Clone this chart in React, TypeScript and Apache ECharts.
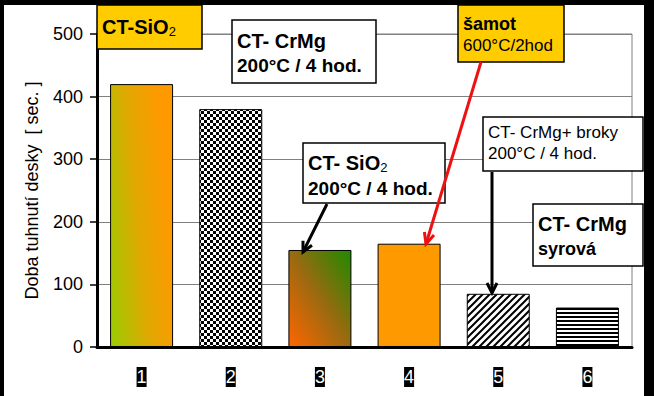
import React, { useEffect, useRef } from "react";
import * as echarts from "echarts";

const categories = ["1", "2", "3", "4", "5", "6"];
const values = [420, 380, 155, 165, 85, 63];
const yMin = 0;
const yMax = 500;
const yInterval = 100;
const yName = "Doba tuhnutí desky  [ sec. ]";

const FONT = "Arial, 'Liberation Sans', sans-serif";

function makeCanvas(w: number, h: number, draw: (ctx: CanvasRenderingContext2D) => void) {
  const c = document.createElement("canvas");
  c.width = w;
  c.height = h;
  const ctx = c.getContext("2d") as CanvasRenderingContext2D;
  draw(ctx);
  return c;
}

function buildFills(): any[] {
  const checker = makeCanvas(6, 6, (ctx) => {
    ctx.fillStyle = "#fff";
    ctx.fillRect(0, 0, 6, 6);
    ctx.fillStyle = "#000";
    ctx.fillRect(0, 0, 3, 3);
    ctx.fillRect(3, 3, 3, 3);
  });
  const diag = makeCanvas(7, 7, (ctx) => {
    ctx.fillStyle = "#fff";
    ctx.fillRect(0, 0, 7, 7);
    ctx.strokeStyle = "#000";
    ctx.lineWidth = 2;
    ctx.beginPath();
    ctx.moveTo(-1, 8);
    ctx.lineTo(8, -1);
    ctx.moveTo(-8, 8);
    ctx.lineTo(1, -1);
    ctx.moveTo(6, 8);
    ctx.lineTo(15, -1);
    ctx.stroke();
  });
  const hstripe = makeCanvas(4, 4, (ctx) => {
    ctx.fillStyle = "#fff";
    ctx.fillRect(0, 0, 4, 4);
    ctx.fillStyle = "#000";
    ctx.fillRect(0, 0, 4, 2);
  });
  return [
    {
      type: "linear", x: 0, y: 1, x2: 1, y2: 0.6,
      colorStops: [
        { offset: 0, color: "#99cc00" },
        { offset: 0.55, color: "#e0a800" },
        { offset: 1, color: "#ff9900" },
      ],
    },
    { image: checker, repeat: "repeat" },
    {
      type: "linear", x: 0, y: 1, x2: 1, y2: 0,
      colorStops: [
        { offset: 0, color: "#ff6600" },
        { offset: 0.5, color: "#9a6a10" },
        { offset: 1, color: "#1f8a00" },
      ],
    },
    "#ff9900",
    { image: diag, repeat: "repeat" },
    { image: hstripe, repeat: "repeat" },
  ];
}

function box(x: number, y: number, w: number, h: number, fill: string) {
  return {
    type: "rect",
    z: 100,
    shape: { x, y, width: w, height: h },
    style: { fill, stroke: "#000", lineWidth: 1.5 },
  };
}

function txt(x: number, y: number, text: string, size: number, weight: string) {
  return {
    type: "text",
    z: 101,
    x,
    y,
    style: {
      text,
      fontSize: size,
      fontWeight: weight,
      fontFamily: FONT,
      fill: "#000",
      verticalAlign: "middle",
      align: "left",
    },
  };
}

function subTxt(x: number, y: number, main: string, sub: string) {
  return {
    type: "text",
    z: 101,
    x,
    y,
    style: {
      text: `{a|${main}}{b|${sub}}`,
      verticalAlign: "middle",
      align: "left",
      rich: {
        a: { fontSize: 20, fontWeight: "bold", fontFamily: FONT, fill: "#000", lineHeight: 22 },
        b: { fontSize: 13, fontFamily: FONT, fill: "#000", lineHeight: 9, verticalAlign: "bottom" },
      },
    },
  };
}

function arrow(x1: number, y1: number, x2: number, y2: number, color: string, w: number, len: number, half: number) {
  const dx = x2 - x1;
  const dy = y2 - y1;
  const L = Math.hypot(dx, dy);
  const ux = dx / L;
  const uy = dy / L;
  const bx = x2 - ux * len;
  const by = y2 - uy * len;
  const px = -uy;
  const py = ux;
  return [
    { type: "line", z: 102, shape: { x1, y1, x2, y2 }, style: { stroke: color, lineWidth: w } },
    {
      type: "polyline",
      z: 102,
      shape: { points: [[bx + px * half, by + py * half], [x2, y2], [bx - px * half, by - py * half]] },
      style: { stroke: color, lineWidth: w, fill: null },
    },
  ];
}

export default function App() {
  const ref = useRef<HTMLDivElement>(null);
  useEffect(() => {
    if (!ref.current) return;
    const chart = echarts.init(ref.current, null, { renderer: "svg" });
    const fills = buildFills();
    const option: any = {
      animation: false,
      backgroundColor: "#fff",
      grid: { left: 97, right: 22, top: 34, bottom: 49, show: true, borderColor: "#808080", borderWidth: 1 },
      xAxis: {
        type: "category",
        data: categories,
        axisLine: { lineStyle: { color: "#000", width: 3 } },
        axisTick: { show: false },
        splitLine: { show: false },
        axisLabel: {
          color: "#fff",
          backgroundColor: "#000",
          fontSize: 18,
          fontFamily: FONT,
          padding: [1, 0, 1, 0],
          margin: 20,
        },
      },
      yAxis: {
        type: "value",
        min: yMin,
        max: yMax,
        interval: yInterval,
        name: yName,
        nameLocation: "middle",
        nameRotate: 90,
        nameGap: 56,
        nameTextStyle: { fontSize: 18, fontFamily: FONT, color: "#000" },
        axisLine: { show: true, lineStyle: { color: "#000", width: 3 } },
        axisTick: { show: true, length: 7, lineStyle: { color: "#000", width: 1.5 } },
        axisLabel: { fontSize: 18, fontFamily: FONT, color: "#000", margin: 14 },
        splitLine: { lineStyle: { color: "#808080", width: 1 } },
      },
      series: [
        {
          type: "bar",
          barWidth: 63,
          data: values.map((v, i) => ({ value: v, itemStyle: { color: fills[i] } })),
          itemStyle: { borderColor: "#000", borderWidth: 1 },
        },
      ],
      graphic: {
        elements: [
          // annotation boxes
          box(97, 5, 105, 44, "#ffcc00"),
          subTxt(102, 27, "CT-SiO", "2"),
          box(232, 20, 144, 63, "#fff"),
          txt(237, 41, "CT- CrMg", 20, "bold"),
          txt(237, 65, "200°C / 4 hod.", 19, "bold"),
          box(458, 5, 106, 57, "#ffcc00"),
          txt(463, 24, "šamot", 18, "bold"),
          txt(463, 45, "600°C/2hod", 17, "normal"),
          box(483, 117, 160, 54, "#fff"),
          txt(488, 132, "CT- CrMg+ broky", 17, "normal"),
          txt(488, 153, "200°C / 4 hod.", 17, "normal"),
          box(303, 143, 142, 60, "#fff"),
          subTxt(308, 163, "CT- SiO", "2"),
          txt(308, 188, "200°C / 4 hod.", 19, "bold"),
          box(533, 204, 110, 62, "#fff"),
          txt(538, 224, "CT- CrMg", 20, "bold"),
          txt(538, 249, "syrová", 18, "bold"),
          // arrows
          ...arrow(327, 204, 303, 252, "#000", 3, 10, 5),
          ...arrow(481, 62, 426, 244, "#ee1111", 3, 11, 5),
          ...arrow(492, 172, 492, 293, "#000", 3, 10, 5),
          // black frame
          { type: "rect", z: 200, shape: { x: 0, y: 0, width: 654, height: 5 }, style: { fill: "#000" } },
          { type: "rect", z: 200, shape: { x: 0, y: 0, width: 4, height: 396 }, style: { fill: "#000" } },
          { type: "rect", z: 200, shape: { x: 644, y: 0, width: 10, height: 396 }, style: { fill: "#000" } },
        ],
      },
    };
    chart.setOption(option);
    return () => chart.dispose();
  }, []);
  return (
    <div
      ref={ref}
      style={{ position: "fixed", left: 0, top: 0, width: 654, height: 396 }}
    />
  );
}
